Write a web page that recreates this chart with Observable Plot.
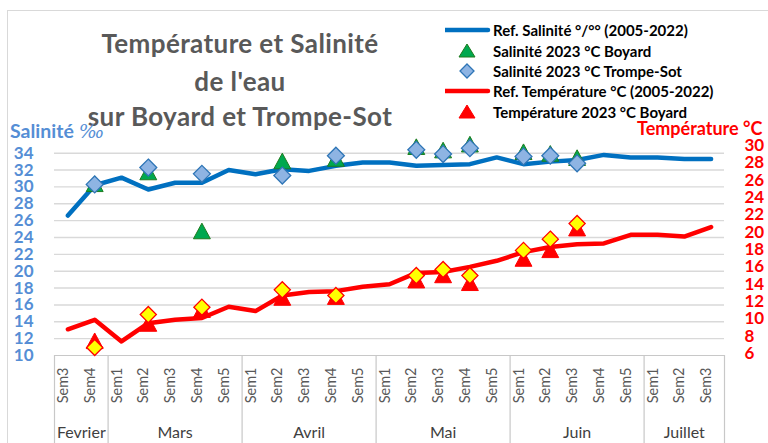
<!DOCTYPE html>
<html><head><meta charset="utf-8">
<script src="https://cdn.jsdelivr.net/npm/d3@7"></script>
<script src="https://cdn.jsdelivr.net/npm/@observablehq/plot@0.6"></script>
<style>
body{margin:0;background:#fff;font-family:Lato,"Open Sans",sans-serif;}
#wrap{position:relative;width:768px;height:443px;overflow:hidden;background:#fff;}
#wrap > svg{position:absolute;left:0;top:0;}
.ov{position:absolute;white-space:nowrap;}
.title{left:20px;width:440px;text-align:center;font-weight:bold;font-size:26px;letter-spacing:0.4px;color:#595959;line-height:30px;}
.leg{left:445px;font-weight:bold;font-size:15px;color:#000;line-height:20px;height:20px;display:flex;align-items:center;}
.leg svg{width:46px;height:20px;margin-right:2px;}
.border{position:absolute;left:7px;top:10px;width:800px;height:500px;border-left:1px solid #D9D9D9;border-top:1px solid #D9D9D9;}
</style></head><body>
<div id="wrap"><div class="border"></div></div>
<script>
// ---- data ----
const months = ["Fevrier", "Mars", "Avril", "Mai", "Juin", "Juillet"];
const monthWeeks = [
  ["Sem3", "Sem4"],
  ["Sem1", "Sem2", "Sem3", "Sem4", "Sem5"],
  ["Sem1", "Sem2", "Sem3", "Sem4", "Sem5"],
  ["Sem1", "Sem2", "Sem3", "Sem4", "Sem5"],
  ["Sem1", "Sem2", "Sem3", "Sem4", "Sem5"],
  ["Sem1", "Sem2", "Sem3"]
];
const refSalinite = [26.6, 30.2, 31.1, 29.7, 30.5, 30.5, 32.0, 31.5, 32.1, 31.9, 32.5, 32.9, 32.9,
  32.5, 32.6, 32.7, 33.5, 32.7, 33.0, 33.2, 33.8, 33.5, 33.5, 33.3, 33.3];
const refTemperature = [8.8, 9.9, 7.4, 9.5, 9.9, 10.1, 11.4, 10.9, 12.7, 13.1, 13.2, 13.7, 14.0,
  15.3, 15.4, 16.0, 16.7, 17.7, 18.3, 18.6, 18.7, 19.7, 19.7, 19.5, 20.6];
const salBoyard = [null, 30.3, null, 31.7, null, 24.7, null, null, 33.0, null, 33.3, null, null,
  34.7, 34.3, 35.0, null, 34.1, 33.9, 33.4, null, null, null, null, null];
const salTrompeSot = [null, 30.3, null, 32.3, null, 31.55, null, null, 31.35, null, 33.7, null, null,
  34.4, 33.9, 34.6, null, 33.6, 33.7, 32.8, null, null, null, null, null];
const tempBoyard = [null, 7.4, null, 9.4, null, 11.0, null, null, 12.4, null, 12.5, null, null,
  14.4, 15.0, 14.1, null, 16.9, 17.9, 20.4, null, null, null, null, null];
const tempTrompeSot = [null, 6.7, null, 10.5, null, 11.35, null, null, 13.35, null, 12.7, null, null,
  15.0, 15.7, 15.0, null, 17.9, 19.2, 21.0, null, null, null, null, null];
const salTicks = [10, 12, 14, 16, 18, 20, 22, 24, 26, 28, 30, 32, 34];
const tempTicks = [6, 8, 10, 12, 14, 16, 18, 20, 22, 24, 26, 28, 30];

// ---- derived tables ----
const categories = [];
const monthInfo = [];
monthWeeks.forEach((ws, m) => {
  const start = categories.length;
  ws.forEach(w => categories.push({i: categories.length, week: w, month: months[m]}));
  monthInfo.push({month: months[m], start, center: start + (ws.length - 1) / 2});
});
const boundaries = monthInfo.map(d => d.start - 0.5).concat([categories.length - 0.5]);
// secondary axis: temperature 30 sits at salinity-equivalent 34.9, temperature 6 at 10.2
const tempToSal = t => 10.23 + (t - 6) * (34.91 - 10.23) / 24;
const series = (arr, f = v => v) => arr.map((v, i) => ({i, v})).filter(d => d.v != null).map(d => ({i: d.i, y: f(d.v)}));

const sRef = series(refSalinite);
const tRef = series(refTemperature, tempToSal);
const sBoy = series(salBoyard);
const sTS = series(salTrompeSot);
const tBoy = series(tempBoyard, tempToSal);
const tTS = series(tempTrompeSot, tempToSal);

const diamond = {draw(ctx, size) { const h = Math.sqrt(size / Math.PI) * 1.3;
  ctx.moveTo(0, -h); ctx.lineTo(h, 0); ctx.lineTo(0, h); ctx.lineTo(-h, 0); ctx.closePath(); }};
const triangle = {draw(ctx, size) { const a = Math.sqrt(size / Math.PI) * 1.3;
  ctx.moveTo(0, -a); ctx.lineTo(a, a * 0.85); ctx.lineTo(-a, a * 0.85); ctx.closePath(); }};

const C = {blue: "#0070C0", red: "#FF0000", green: "#00A84F", greenS: "#1E7B1E", lblue: "#8EB4E3",
  lblueS: "#2E75B6", yellow: "#FFFF00", grid: "#D9D9D9", axisBlue: "#558ED5", gray: "#595959"};

const chart = Plot.plot({
  width: 768, height: 443,
  marginTop: 152.7, marginBottom: 88, marginLeft: 54, marginRight: 44,
  x: {type: "linear", domain: [-0.5, categories.length - 0.5], axis: null},
  y: {domain: [10, 34], axis: null},
  style: {fontFamily: "Lato, 'Open Sans', sans-serif", background: "transparent", overflow: "visible"},
  marks: [
    Plot.ruleY(salTicks.slice(1), {stroke: C.grid, strokeWidth: 1.4}),
    Plot.ruleY([10], {stroke: "#C8C8C8", strokeWidth: 1.2}),
    Plot.ruleX(boundaries, {x: d => d, y1: 10, y2: -0.6, stroke: "#C8C8C8", strokeWidth: 1.2}),
    Plot.line(sRef, {x: "i", y: "y", stroke: C.blue, strokeWidth: 4.5, strokeLinejoin: "round", strokeLinecap: "round"}),
    Plot.dot(sBoy, {x: "i", y: "y", symbol: triangle, r: 6.5, fill: C.green, stroke: C.greenS, strokeWidth: 1}),
    Plot.dot(sTS, {x: "i", y: "y", symbol: diamond, r: 6.5, fill: C.lblue, stroke: C.lblueS, strokeWidth: 1.3}),
    Plot.line(tRef, {x: "i", y: "y", stroke: C.red, strokeWidth: 4.5, strokeLinejoin: "round", strokeLinecap: "round"}),
    Plot.dot(tBoy, {x: "i", y: "y", symbol: triangle, r: 6.5, fill: C.red, stroke: C.red, strokeWidth: 1}),
    Plot.dot(tTS, {x: "i", y: "y", symbol: diamond, r: 6.2, fill: C.yellow, stroke: C.red, strokeWidth: 1.3}),
    Plot.text(salTicks, {y: d => d, text: d => String(d), frameAnchor: "left", dx: -21, textAnchor: "end",
      fill: C.axisBlue, fontWeight: "bold", fontSize: 17}),
    Plot.text(tempTicks, {y: d => tempToSal(d), text: d => String(d), frameAnchor: "right", dx: 20, textAnchor: "start",
      fill: C.red, fontWeight: "bold", fontSize: 17}),
    Plot.text(categories, {x: "i", text: "week", frameAnchor: "bottom", dy: 12, rotate: -90, textAnchor: "end",
      fill: C.gray, fontSize: 14.5}),
    Plot.text(monthInfo, {x: "center", text: "month", frameAnchor: "bottom", dy: 82, fill: "#404040", fontSize: 16})
  ]
});
const wrap = document.getElementById("wrap");
wrap.appendChild(chart);

// title, axis titles, legend (HTML overlay)
const titleLines = ["Température et Salinité", "de l'eau", "sur Boyard et Trompe-Sot"];
const titleTops = [28, 66, 101];
titleLines.forEach((t, k) => {
  const d = document.createElement("div");
  d.className = "ov title"; d.style.top = titleTops[k] + "px"; d.textContent = t;
  wrap.appendChild(d);
});
const yl = document.createElement("div");
yl.className = "ov"; yl.style.left = "10px"; yl.style.top = "119px";
yl.style.fontSize = "19.5px"; yl.style.color = C.axisBlue;
yl.innerHTML = '<b>Salinité</b> <i style="font-family:\'DejaVu Serif\',serif;font-size:19px">‰</i>';
wrap.appendChild(yl);
const yr = document.createElement("div");
yr.className = "ov"; yr.style.left = "637px"; yr.style.top = "117px";
yr.style.fontSize = "18px"; yr.style.color = C.red; yr.style.fontWeight = "bold";
yr.textContent = "Température °C";
wrap.appendChild(yr);

const legendLabels = ["Ref. Salinité °/°° (2005-2022)", "Salinité 2023 °C Boyard", "Salinité 2023 °C Trompe-Sot",
  "Ref. Température °C (2005-2022)", "Température 2023 °C Boyard"];
const legendSyms = [
  `<line x1="0" y1="10" x2="43" y2="10" stroke="${C.blue}" stroke-width="4.5" stroke-linecap="round"/>`,
  `<path d="M22,3 L30,16 L14,16 Z" fill="${C.green}" stroke="${C.greenS}"/>`,
  `<path d="M22,3 L29,10 L22,17 L15,10 Z" fill="${C.lblue}" stroke="${C.lblueS}" stroke-width="1.3"/>`,
  `<line x1="0" y1="10" x2="43" y2="10" stroke="${C.red}" stroke-width="4.5" stroke-linecap="round"/>`,
  `<path d="M22,3 L30,16 L14,16 Z" fill="${C.red}" stroke="${C.red}"/>`
];
const legTops = [20, 40.5, 61, 81, 102];
legendLabels.forEach((t, k) => {
  const d = document.createElement("div");
  d.className = "ov leg"; d.style.top = legTops[k] + "px";
  d.innerHTML = `<svg viewBox="0 0 46 20">${legendSyms[k]}</svg><span>${t}</span>`;
  wrap.appendChild(d);
});
</script>
</body></html>
